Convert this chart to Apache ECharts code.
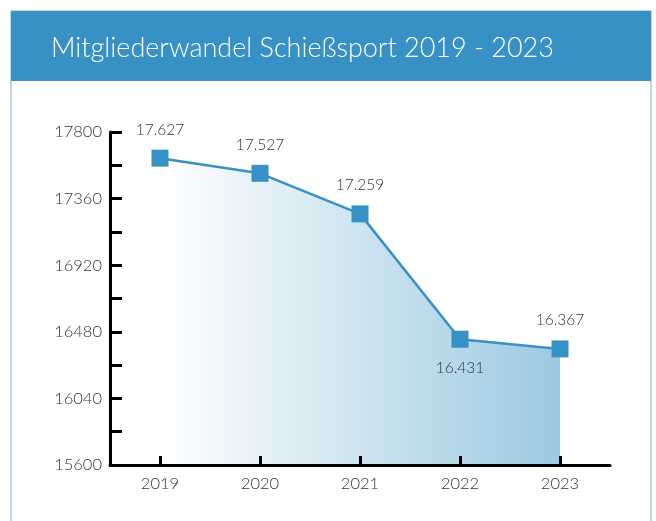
<!DOCTYPE html>
<html>
<head>
<meta charset="utf-8">
<title>Mitgliederwandel Schießsport 2019 - 2023</title>
<script src="https://cdn.jsdelivr.net/npm/echarts@6/dist/echarts.min.js"></script>
<style>
  html, body { margin: 0; padding: 0; background: #fff; }
  #chart { width: 656px; height: 521px; }
</style>
</head>
<body>
<div id="chart"></div>
<script>
// Daten
const years = ["2019", "2020", "2021", "2022", "2023"];
const members = [17627, 17527, 17259, 16431, 16367];
const labelBelow = [false, false, false, true, false];
const yLabelValues = [15600, 16040, 16480, 16920, 17360, 17800];
const yTickValues = [15600, 15820, 16040, 16260, 16480, 16700, 16920, 17140, 17360, 17580, 17800];

const blue = "#3891c5";
const font = "Lato";

const chart = echarts.init(document.getElementById("chart"), null, { renderer: "canvas" });

const fmt = (v) => v.toLocaleString("de-DE");

chart.setOption({
    animation: false,
    textStyle: { fontFamily: font },
    graphic: [
        {
            type: "rect",
            shape: { x: 11, y: 11, width: 640, height: 520 },
            style: { fill: "#fff", stroke: "#7ab6da", lineWidth: 1 },
            z: -10,
        },
        {
            type: "rect",
            shape: { x: 11, y: 11, width: 640, height: 70 },
            style: { fill: blue },
            z: -9,
        },
    ],
    title: {
        text: "Mitgliederwandel Schießsport 2019 - 2023",
        left: 46,
        top: 30,
        textStyle: { color: "#fff", fontSize: 27, fontWeight: 300, fontFamily: font },
    },
    grid: { left: 110, right: 46, top: 132, bottom: 56, containLabel: false },
    xAxis: {
        type: "category",
        data: years,
        boundaryGap: true,
        z: 10,
        axisLine: { lineStyle: { color: "#000", width: 3 } },
        axisTick: {
            show: true,
            interval: 0,
            alignWithLabel: true,
            inside: true,
            length: 9,
            lineStyle: { color: "#000", width: 3 },
        },
        axisLabel: { color: "#333", fontSize: 16.5, fontWeight: 300, margin: 10 },
        splitLine: { show: false },
    },
    yAxis: {
        type: "value",
        min: 15600,
        max: 17800,
        z: 10,
        axisLine: { show: true, lineStyle: { color: "#000", width: 3 } },
        axisTick: {
            show: true,
            inside: true,
            length: 12,
            customValues: yTickValues,
            lineStyle: { color: "#000", width: 3 },
        },
        axisLabel: {
            customValues: yLabelValues,
            formatter: (v) => String(v),
            color: "#333",
            fontSize: 16.5,
            fontWeight: 300,
            margin: 8,
        },
        splitLine: { show: false },
    },
    series: [
        {
            type: "line",
            z: 1,
            data: members.map((v, i) => ({
                value: v,
                label: { position: labelBelow[i] ? "bottom" : "top" },
            })),
            symbol: "rect",
            symbolSize: 17,
            itemStyle: { color: blue },
            lineStyle: { color: blue, width: 2.5 },
            areaStyle: {
                origin: "start",
                opacity: 1,
                color: new echarts.graphic.LinearGradient(0, 0, 1, 0, [
                    { offset: 0, color: "#ffffff" },
                    { offset: 1, color: "#9cc9e1" },
                ]),
            },
            label: {
                show: true,
                distance: 12,
                color: "#333",
                fontSize: 15.5,
                fontWeight: 300,
                formatter: (p) => fmt(p.value),
            },
        },
    ],
});
</script>
</body>
</html>
